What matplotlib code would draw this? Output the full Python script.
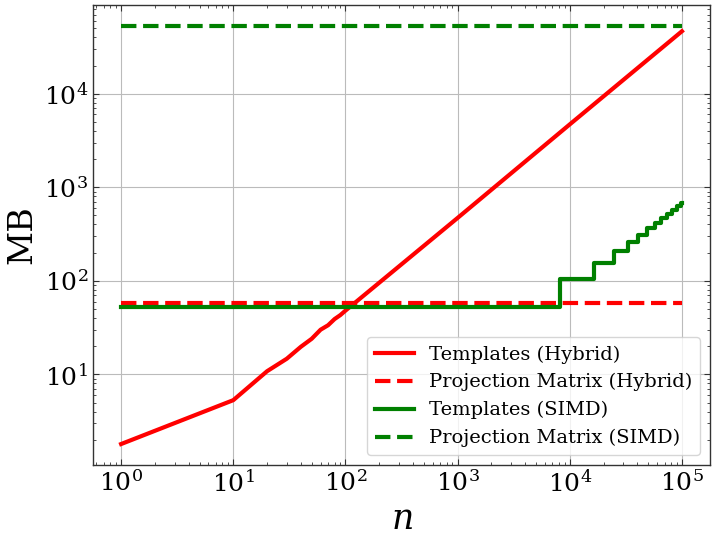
import matplotlib
matplotlib.use("Agg")
import matplotlib.pyplot as plt

# values
n_hybrid = [1, 10, 20, 30, 40, 50, 60, 70, 80, 90, 100, 1000, 10000, 100000]
mb_templates_hybrid = [1.8, 5.3, 10.8, 14.7, 19.7, 24, 30, 33.5, 39, 43, 48, 470, 4700, 46500]
mb_proj_hybrid = 58

n_simd = [1, 8192, 16384, 24576, 32768, 40960, 49152, 57344, 65536, 73728, 81920, 90112, 98304, 100000]
mb_templates_simd = [52, 104, 156, 208, 260, 312, 364, 416, 468, 520, 572, 624, 676, 676]
mb_proj_simd = 53000

plt.rcParams['font.family'] = ['DejaVu Serif']
plt.rcParams['mathtext.fontset'] = 'dejavuserif'
plt.rcParams['xtick.direction'] = 'in'
plt.rcParams['ytick.direction'] = 'in'
plt.rcParams['xtick.top'] = True
plt.rcParams['ytick.right'] = True
plt.rcParams['xtick.minor.visible'] = True
plt.rcParams['ytick.minor.visible'] = True

fig, ax = plt.subplots(figsize=(7.16, 5.4), dpi=100)

ax.plot(n_hybrid, mb_templates_hybrid, color='red', lw=3, label='Templates (Hybrid)')
ax.plot([n_hybrid[0], n_hybrid[-1]], [mb_proj_hybrid, mb_proj_hybrid], color='red', lw=3,
        ls='--', label='Projection Matrix (Hybrid)')
ax.step(n_simd, mb_templates_simd, where='post', color='green', lw=3, label='Templates (SIMD)')
ax.plot([n_simd[0], n_simd[-1]], [mb_proj_simd, mb_proj_simd], color='green', lw=3,
        ls='--', label='Projection Matrix (SIMD)')

ax.set_xscale('log')
ax.set_yscale('log')
ax.grid(True, which='major', color='#bbbbbb', lw=0.8)
ax.set_axisbelow(True)

ax.tick_params(which='major', length=4, width=0.8, labelsize=18, color='#333333')
ax.tick_params(which='minor', length=2.5, width=0.6, color='#333333')
for s in ax.spines.values():
    s.set_color('#333333')
    s.set_linewidth(1.0)

ax.set_xlabel('$n$', fontsize=25)
ax.set_ylabel('MB', fontsize=24)
ax.legend(loc='lower right', fontsize=14)

plt.subplots_adjust(left=0.130, right=0.9916, top=0.9907, bottom=0.139)
plt.savefig('out.png', dpi=100)
